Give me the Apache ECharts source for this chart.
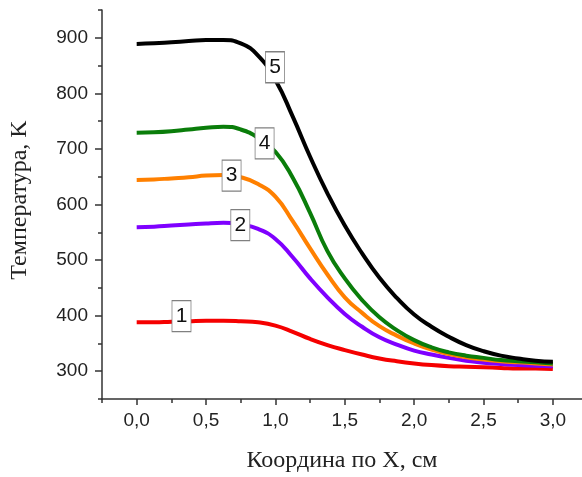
<!DOCTYPE html>
<html>
<head>
<meta charset="utf-8">
<script src="https://cdn.jsdelivr.net/npm/echarts@6/dist/echarts.min.js"></script>
<style>
  html, body { margin: 0; padding: 0; background: #fff; }
  #chart { width: 582px; height: 477px; }
</style>
</head>
<body>
<div id="chart"></div>
<script>
// координаты по X, см (шаг 0,125)
const xs = [0, 0.125, 0.25, 0.375, 0.5, 0.625, 0.75, 0.875, 1.0, 1.125, 1.25, 1.375, 1.5,
  1.625, 1.75, 1.875, 2.0, 2.125, 2.25, 2.375, 2.5, 2.625, 2.75, 2.875, 3.0];

// температура, K (кривые 1..5)
const curve1 = [388, 388, 389, 390, 391, 391, 390, 388, 382, 371, 358, 347, 338,
  330, 323, 318, 314, 311, 309, 308, 307, 306, 305, 305, 304];
const curve2 = [559, 560, 562, 564, 566, 567, 564, 556, 538, 505, 467, 433, 403,
  380, 361, 348, 337, 330, 324, 319, 315, 313, 311, 310, 309];
const curve3 = [644, 645, 647, 649, 652, 653, 649, 637, 614, 570, 521, 474, 433,
  405, 381, 364, 350, 339, 331, 325, 321, 318, 316, 314, 312];
const curve4 = [729, 730, 732, 735, 738, 740, 735, 720, 695, 648, 585, 516, 467,
  428, 397, 374, 356, 343, 334, 328, 324, 320, 318, 316, 314];
const curve5 = [889, 890, 892, 894, 896, 896, 890, 868, 824, 758, 686, 620, 562,
  512, 468, 432, 402, 380, 362, 347, 336, 328, 323, 319, 317];

const curveNames = ['1', '2', '3', '4', '5'];
const curveColors = ['#f50000', '#7f00ff', '#ff8000', '#0a7d0a', '#000000'];
// где стоят номера кривых (x, T)
const labelX = [0.323, 0.747, 0.684, 0.922, 0.997];
const labelT = [399, 563, 652, 710, 847];

const xTicks = [0, 0.5, 1.0, 1.5, 2.0, 2.5, 3.0];
const xMinorTicks = [-0.25, 0.25, 0.75, 1.25, 1.75, 2.25, 2.75];
const yTicks = [300, 400, 500, 600, 700, 800, 900];
const yMinorTicks = [250, 350, 450, 550, 650, 750, 850, 950];

const curves = [curve1, curve2, curve3, curve4, curve5];

const chart = echarts.init(document.getElementById('chart'));

const axisColor = '#333';
const numFont = { fontFamily: 'Liberation Sans', fontSize: 19, color: '#222' };

const series = curves.map((vals, i) => ({
  type: 'line',
  name: curveNames[i],
  data: xs.map((x, k) => [x, vals[k]]),
  smooth: 0.5,
  showSymbol: false,
  lineStyle: { color: curveColors[i], width: 4 },
  z: 2,
  markPoint: {
    symbol: 'rect',
    symbolSize: [19, 31],
    itemStyle: { color: '#fff', borderColor: '#808080', borderWidth: 1 },
    label: {
      show: true,
      position: 'inside',
      formatter: curveNames[i],
      fontFamily: 'Liberation Sans',
      fontSize: 21,
      color: '#111',
    },
    data: [{ coord: [labelX[i], labelT[i]] }],
    z: 5,
  },
}));

chart.setOption({
  animation: false,
  backgroundColor: '#fff',
  grid: { left: 102, top: 10, right: 0, bottom: 78, outerBoundsMode: 'none', containLabel: false },
  xAxis: [
    {
      type: 'value',
      min: -0.25,
      max: 3.21,
      name: 'Координа по X, см',
      nameLocation: 'middle',
      nameGap: 50,
      nameTextStyle: { fontFamily: 'Liberation Serif', fontSize: 24, color: '#222' },
      axisLine: { show: true, onZero: false, lineStyle: { color: axisColor, width: 1.5 } },
      axisTick: { show: true, inside: false, length: 6, customValues: xTicks, lineStyle: { color: axisColor, width: 1.5 } },
      axisLabel: {
        customValues: xTicks,
        margin: 12,
        ...numFont,
        formatter: (v) => v.toFixed(1).replace('.', ','),
      },
      splitLine: { show: false },
    },
    {
      type: 'value',
      min: -0.25,
      max: 3.21,
      position: 'bottom',
      axisLine: { show: false, onZero: false },
      axisTick: { show: true, length: 4, customValues: xMinorTicks, lineStyle: { color: axisColor, width: 1.5 } },
      axisLabel: { show: false },
      splitLine: { show: false },
    },
  ],
  yAxis: [
    {
      type: 'value',
      min: 250,
      max: 950,
      name: 'Температура, K',
      nameLocation: 'middle',
      nameGap: 70,
      nameTextStyle: { fontFamily: 'Liberation Serif', fontSize: 24, color: '#222', padding: [0, 0, 0, 9] },
      axisLine: { show: true, onZero: false, lineStyle: { color: axisColor, width: 1.5 } },
      axisTick: { show: true, length: 7, customValues: yTicks, lineStyle: { color: axisColor, width: 1.5 } },
      axisLabel: { customValues: yTicks, margin: 14, ...numFont },
      splitLine: { show: false },
    },
    {
      type: 'value',
      min: 250,
      max: 950,
      position: 'left',
      axisLine: { show: false, onZero: false },
      axisTick: { show: true, length: 4, customValues: yMinorTicks, lineStyle: { color: axisColor, width: 1.5 } },
      axisLabel: { show: false },
      splitLine: { show: false },
    },
  ],
  series: series,
});
</script>
</body>
</html>
